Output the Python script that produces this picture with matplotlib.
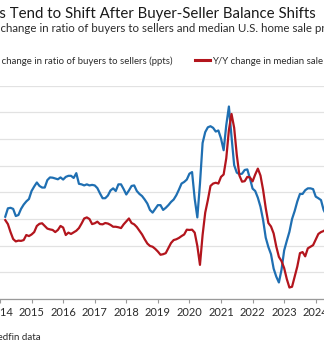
import numpy as np
import matplotlib
matplotlib.use("Agg")
import matplotlib.pyplot as plt

# monthly values starting March 2014
start_year = 2014
start_month = 3

ratio_change = [0.43, 2.0, 2.1, 1.9, 0.56, 0.75, 1.9, 2.7, 3.3, 3.75,
                5.25, 6.1, 6.85, 6.2, 5.9, 5.9, 7.3, 7.8, 7.75, 7.6,
                7.45, 7.8, 7.4, 7.9, 8.1, 8.1, 7.7, 8.6, 6.6, 6.5,
                6.3, 6.5, 6.3, 6.4, 6.3, 5.8, 4.8, 3.9, 3.9, 4.4,
                5.35, 5.75, 5.25, 6.5, 6.5, 5.6, 4.6, 5.35, 6.2, 6.3,
                5.25, 4.7, 4.3, 3.65, 2.9, 1.7, 1.2, 1.9, 2.6, 2.6,
                1.7, 2.1, 2.6, 3.2, 3.65, 4.45, 5.5, 6.65, 6.95, 7.4,
                8.5, 8.8, 3.8, 0.3, 6.6, 14.25, 16.3, 17.2, 17.4, 17.1,
                16.4, 16.6, 15.1, 12.9, 17.6, 21.1, 15.4, 10.1, 8.7, 8.4,
                8.5, 9.2, 9.3, 7.6, 5.7, 5.25, 4.0, 2.3, -0.2, -3.5,
                -5.25, -6.6, -9.3, -10.8, -11.9, -9.5, -5.9, -4.1, -2.4, 0.0,
                1.5, 3.3, 4.7, 4.7, 5.4, 5.75, 5.75, 5.6, 4.2, 3.9,
                3.55, 1.7, 0.75]

price_change = [-0.2, -0.95, -2.45, -3.75, -4.2, -4.05, -4.1, -3.95, -3.0, -3.2,
                -2.9, -2.45, -1.3, -0.9, -0.8, -1.3, -1.8, -1.95, -2.05, -2.45,
                -2.05, -1.3, -1.6, -3.0, -2.55, -2.8, -2.5, -2.2, -1.7, -0.85,
                0.1, 0.3, 0.0, -0.95, -0.8, -0.5, -0.95, -1.0, -0.75, -0.85,
                -1.1, -1.45, -1.45, -1.55, -1.7, -1.0, -0.45, 0.1, -0.75, -1.0,
                -1.5, -2.2, -2.9, -3.8, -4.6, -5.05, -5.2, -5.6, -6.1, -6.7,
                -6.6, -6.4, -5.45, -4.5, -3.95, -3.8, -3.55, -3.2, -2.9, -2.0,
                -2.05, -2.0, -2.55, -5.05, -8.6, -3.0, 1.2, 3.55, 6.2, 6.65,
                6.8, 6.65, 7.9, 8.35, 11.4, 16.7, 19.7, 17.1, 12.0, 8.15,
                7.0, 7.1, 7.9, 7.8, 7.05, 8.35, 9.45, 8.15, 5.45, 2.05,
                -0.75, -1.4, -2.7, -5.15, -7.1, -7.9, -9.2, -11.25, -12.85, -12.7,
                -10.8, -8.9, -6.4, -6.2, -7.0, -5.5, -5.2, -4.9, -3.85, -2.8,
                -2.45, -2.25, -1.9]

years = list(range(2014, 2025))

blue = "#1f6fb2"
red = "#b3151d"
txt = "#2b2b2b"

plt.rcParams['font.family'] = ['Lato', 'DejaVu Sans']

W, H = 324, 346
fig = plt.figure(figsize=(W / 100, H / 100), dpi=100)

t = start_year + (start_month - 1) / 12 + np.arange(len(ratio_change)) / 12

# x px: 0 -> 2014.168, 324 -> 2024.262 ; y px 85.7 (top grid) .. 299 (axis)
ax = fig.add_axes([0, (H - 299) / H, 1, (299 - 85.7) / H])
ax.plot(t, ratio_change, color=blue, lw=1.6, solid_joinstyle='round')
ax.plot(t, price_change, color=red, lw=1.6, solid_joinstyle='round')
ax.set_xlim(2014.168, 2024.262)
ax.set_ylim(-15, 25)
ax.set_yticks(np.arange(-15, 26, 5))
ax.set_xticks(years)
ax.set_xticklabels([str(y) for y in years])
ax.grid(axis='y', color='#e2e2e2', lw=0.9)
ax.set_axisbelow(True)
for s in ['top', 'left', 'right']:
    ax.spines[s].set_visible(False)
ax.spines['bottom'].set_color('#9a9a9a')
ax.spines['bottom'].set_linewidth(0.9)
ax.tick_params(axis='y', length=0, labelleft=False)
ax.tick_params(axis='x', length=3, width=0.8, color='#9a9a9a', labelsize=8,
               labelcolor=txt, pad=3)

def px(x, y):
    return x / W, (H - y) / H

# title, cut on the left like the reference
fig.text(*px(316, 14), "Home Prices Tend to Shift After Buyer-Seller Balance Shifts",
         ha='right', va='center', fontsize=10.85, color='#1a1a1a')

# subtitle, placed so that "change" starts at the left edge
renderer = fig.canvas.get_renderer()
sub = "Y/Y change in ratio of buyers to sellers and median U.S. home sale price"
m1 = fig.text(0, 0, "Y/Y change", fontsize=8.25)
m2 = fig.text(0, 0, "change", fontsize=8.25)
off = m1.get_window_extent(renderer).width - m2.get_window_extent(renderer).width
m1.remove()
m2.remove()
fig.text((1 - off) / W, (H - 29) / H, sub, ha='left', va='center', fontsize=8.25, color=txt)

# legend
fig.text(*px(173, 61), "Y/Y change in ratio of buyers to sellers (ppts)",
         ha='right', va='center', fontsize=6.95, color=txt)
fig.add_artist(plt.Line2D([195 / W, 210 / W], [(H - 60) / H] * 2, color=red, lw=2.2))
fig.text(*px(212, 61), "Y/Y change in median sale price (%)",
         ha='left', va='center', fontsize=6.95, color=txt)

fig.text(*px(41, 337), "Source: Redfin data", ha='right', va='center',
         fontsize=7, color=txt)

fig.savefig("out.png", dpi=100)
